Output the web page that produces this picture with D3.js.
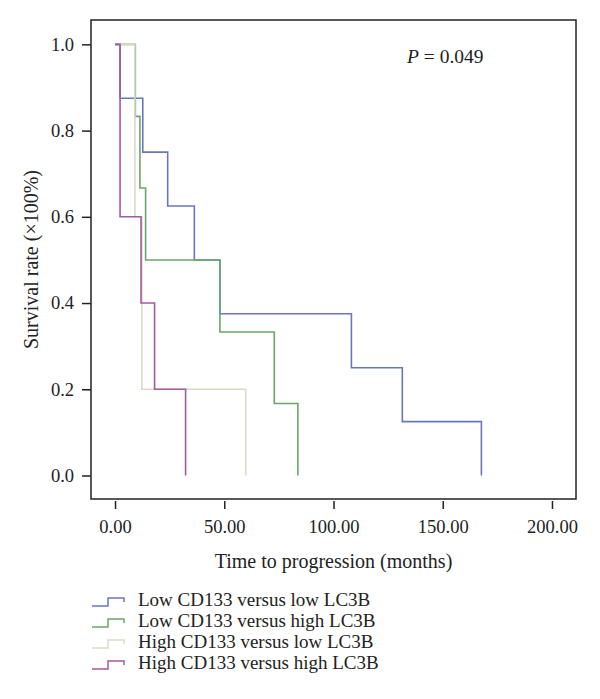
<!DOCTYPE html>
<html>
<head>
<meta charset="utf-8">
<script src="https://cdn.jsdelivr.net/npm/d3@7/dist/d3.min.js"></script>
<style>
  html, body { margin: 0; padding: 0; background: #fff; }
  svg { display: block; }
  text { font-family: "Liberation Serif", "DejaVu Serif", serif; fill: #222; }
</style>
</head>
<body>
<svg id="chart" width="600" height="699"></svg>
<script>
// ---- Data ----
const seriesNames = [
  "Low CD133 versus low LC3B",
  "Low CD133 versus high LC3B",
  "High CD133 versus low LC3B",
  "High CD133 versus high LC3B"
];
const seriesColors = ["#6d74c0", "#68a86b", "#dbdac8", "#a35c9b"];
// event times (months) and survival after each event
const lowLowTimes  = [0, 2.3, 12.7, 24.1, 36.3, 48.0, 108.2, 131.5, 167.7];
const lowLowSurv   = [1.0, 0.875, 0.75, 0.625, 0.5, 0.375, 0.25, 0.125, 0.0];
const lowHighTimes = [0, 9.3, 11.4, 14.0, 48.0, 72.9, 83.7];
const lowHighSurv  = [1.0, 0.833, 0.667, 0.5, 0.333, 0.167, 0.0];
const highLowTimes = [0, 9.1, 12.3, 59.8];
const highLowSurv  = [1.0, 0.6, 0.2, 0.0];
const highHighTimes = [0, 2.3, 11.9, 18.1, 32.3];
const highHighSurv  = [1.0, 0.6, 0.4, 0.2, 0.0];
const xTicks = [0, 50, 100, 150, 200];
const yTicks = [0, 0.2, 0.4, 0.6, 0.8, 1.0];
const pText = "0.049";

const series = [
  {name: seriesNames[0], color: seriesColors[0], t: lowLowTimes, s: lowLowSurv},
  {name: seriesNames[1], color: seriesColors[1], t: lowHighTimes, s: lowHighSurv},
  {name: seriesNames[2], color: seriesColors[2], t: highLowTimes, s: highLowSurv},
  {name: seriesNames[3], color: seriesColors[3], t: highHighTimes, s: highHighSurv}
];

// ---- Layout ----
const box = {left: 91, right: 576, top: 20, bottom: 499};
const svg = d3.select("#chart");

const x = d3.scaleLinear().domain([-11, 211]).range([box.left, box.right]);
const y = d3.scaleLinear().domain([-0.0545, 1.0565]).range([box.bottom, box.top]);

// Step paths: horizontal then vertical drop at each event time
function stepPoints(d) {
  const pts = [[d.t[0], d.s[0]]];
  for (let i = 1; i < d.t.length; i++) {
    pts.push([d.t[i], d.s[i - 1]]);
    pts.push([d.t[i], d.s[i]]);
  }
  return pts;
}
const line = d3.line().x(p => x(p[0])).y(p => y(p[1]));

svg.append("g").selectAll("path")
  .data(series)
  .join("path")
  .attr("d", d => line(stepPoints(d)))
  .attr("fill", "none")
  .attr("stroke", d => d.color)
  .attr("stroke-width", 1.6);

// Frame
svg.append("rect")
  .attr("x", box.left).attr("y", box.top)
  .attr("width", box.right - box.left).attr("height", box.bottom - box.top)
  .attr("fill", "none").attr("stroke", "#222").attr("stroke-width", 1.5);

// Axes
const xAxis = d3.axisBottom(x).tickValues(xTicks).tickFormat(d3.format(".2f"))
  .tickSize(8).tickPadding(11);
const gx = svg.append("g").attr("transform", `translate(0,${box.bottom + 2})`).call(xAxis);
gx.select(".domain").remove();
gx.selectAll("line").attr("stroke", "#222").attr("stroke-width", 1.5);
gx.selectAll("text").attr("font-size", 18.5).attr("font-family", "Liberation Serif").attr("fill", "#222");

const yAxis = d3.axisLeft(y).tickValues(yTicks).tickFormat(d3.format(".1f"))
  .tickSize(9).tickPadding(8);
const gy = svg.append("g").attr("transform", `translate(${box.left},0)`).call(yAxis);
gy.select(".domain").remove();
gy.selectAll("line").attr("stroke", "#222").attr("stroke-width", 1.5);
gy.selectAll("text").attr("font-size", 18.5).attr("font-family", "Liberation Serif").attr("fill", "#222");

// Axis titles
svg.append("text")
  .attr("x", (x(0) + x(200)) / 2).attr("y", 568)
  .attr("text-anchor", "middle").attr("font-size", 20)
  .text("Time to progression (months)");
svg.append("text")
  .attr("transform", `translate(38,${(box.top + box.bottom) / 2}) rotate(-90)`)
  .attr("text-anchor", "middle").attr("font-size", 20)
  .text("Survival rate (\u00d7100%)");

// P value
const pt = svg.append("text").attr("x", 407).attr("y", 63).attr("font-size", 19.5);
pt.append("tspan").attr("font-style", "italic").text("P");
pt.append("tspan").text(" = " + pText);

// Legend
const legend = svg.append("g");
const rowY = [600, 621, 642, 663];
series.forEach((d, i) => {
  const cy = rowY[i];
  legend.append("path")
    .attr("d", `M92,${cy + 6}H108V${cy - 2}H124V${cy + 2}`)
    .attr("fill", "none").attr("stroke", d.color).attr("stroke-width", 1.5);
  legend.append("text")
    .attr("x", 138).attr("y", cy + 6)
    .attr("font-size", 19)
    .text(d.name);
});
</script>
</body>
</html>
